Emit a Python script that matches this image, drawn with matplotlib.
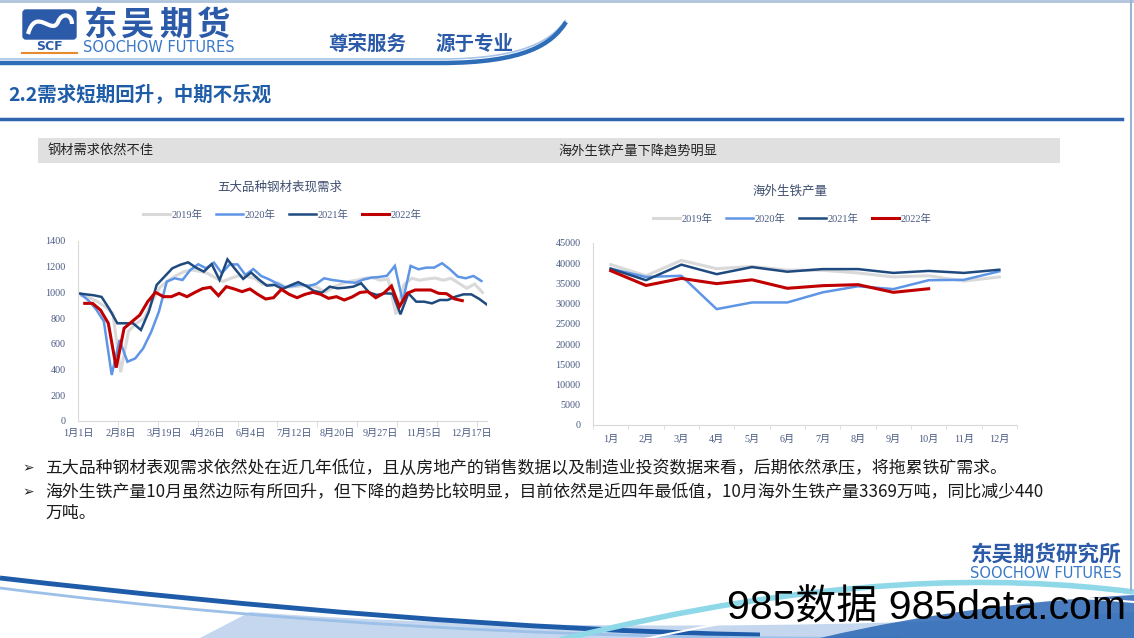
import matplotlib.pyplot as plt
import numpy as np
import pandas as pd
from matplotlib.path import Path
from matplotlib.patches import PathPatch, Rectangle, FancyBboxPatch

plt.rcParams['font.family'] = ['Noto Sans CJK SC', 'DejaVu Sans']
SERIF = ['Liberation Serif', 'Noto Sans CJK SC']

# ---- left chart: 五大品种钢材表观需求 (weekly) ----
years = ["2019年", "2020年", "2021年", "2022年"]
steel_start = ["2019-01-04", "2020-01-03", "2021-01-01", "2022-01-07"]
steel_2019 = [975, 960, 930, 890, 838, 380, 700, 760, 800, 930,
              1040, 1090, 1130, 1160, 1175, 1165, 1150, 1115, 1085, 1110,
              1130, 1125, 1110, 1065, 1058, 1075, 1040, 1045, 1050, 1055,
              1040, 1000, 1040, 1065, 1085, 1095, 1110, 1115, 1095, 1105,
              830, 1060, 1110, 1095, 1105, 1112, 1095, 1110, 1071, 1032,
              1065, 1000]
steel_2020 = [990, 940, 870, 775, 358, 630, 461, 487, 565, 690,
              850, 1084, 1110, 1097, 1175, 1219, 1188, 1232, 1149, 1218,
              1218, 1136, 1182, 1128, 1102, 1071, 1040, 1050, 1063, 1050,
              1066, 1110, 1097, 1089, 1080, 1075, 1100, 1115, 1120, 1130,
              1206, 930, 1206, 1180, 1193, 1193, 1227, 1180, 1123, 1110,
              1128, 1089]
steel_2021 = [993, 985, 978, 965, 870, 760, 760, 760, 708, 850,
              1058, 1123, 1188, 1215, 1234, 1193, 1162, 1220, 1097, 1257,
              1180, 1105, 1155, 1100, 1053, 1058, 1027, 1055, 1080, 1050,
              1012, 998, 1045, 1032, 1037, 1045, 1071, 1000, 980, 993,
              990, 830, 993, 928, 928, 915, 941, 941, 967, 985,
              985, 950, 905]
steel_2022 = [915, 915, 863, 760, 415, 721, 773, 824, 928, 1001,
              967, 967, 993, 967, 1000, 1030, 1040, 975, 1045, 1027,
              1006, 1027, 985, 949, 959, 1024, 985, 959, 985, 1001,
              985, 954, 967, 941, 965, 1000, 1006, 959, 993, 1050,
              889, 993, 1019, 1019, 1019, 993, 990, 950, 936]
steel_tick_dates = ["2021-01-01", "2021-02-08", "2021-03-19", "2021-04-26", "2021-06-04",
                    "2021-07-12", "2021-08-20", "2021-09-27", "2021-11-05", "2021-12-17"]
steel_tick_labels = ["1月1日", "2月8日", "3月19日", "4月26日", "6月4日",
                     "7月12日", "8月20日", "9月27日", "11月5日", "12月17日"]

# ---- right chart: 海外生铁产量 (monthly) ----
months = ["1月", "2月", "3月", "4月", "5月", "6月", "7月", "8月", "9月", "10月", "11月", "12月"]
pig_2019 = [39650, 36900, 40700, 38650, 39200, 38300, 38250, 37600, 36600, 36900, 35600, 36600]
pig_2020 = [38650, 36600, 36900, 28650, 30300, 30300, 32800, 34300, 33600, 35800, 35900, 38000]
pig_2021 = [38650, 35800, 39650, 37300, 39050, 37900, 38550, 38550, 37600, 38100, 37600, 38400]
pig_2022 = [38150, 34500, 36250, 34950, 35900, 33800, 34450, 34700, 32800, 33690]

colors = ['#D9D9D9', '#5E95E6', '#1F4A7F', '#C00000']
widths = [2.2, 1.8, 1.8, 2.2]
label_color = '#4A5B82'

W, H = 1134, 638
fig = plt.figure(figsize=(W / 100, H / 100), dpi=100)
bg = fig.add_axes([0, 0, 1, 1])
bg.set_xlim(0, W)
bg.set_ylim(H, 0)
bg.axis('off')


def px_rect(l, t, r, b):
    return [l / W, 1 - b / H, (r - l) / W, (b - t) / H]


def curve(pts, **kw):
    codes = [Path.MOVETO] + [Path.CURVE4] * (len(pts) - 1)
    bg.add_patch(PathPatch(Path(pts, codes), fill=False, **kw))


# ---- header ----
bg.plot([0, W], [1, 1], color='#AFC3DC', lw=2)
bg.plot([1131, 1131], [0, 590], color='#9DB3D2', lw=1.5)
bg.add_patch(FancyBboxPatch((23, 10), 53, 29, boxstyle='round,pad=0,rounding_size=3',
                            color='#2B5AA8'))
curve([(28, 34), (36, 6), (52, 36), (58, 22), (62, 12), (72, 14), (72, 24)],
      edgecolor='white', lw=3)
bg.text(49.5, 47, "SCF", fontsize=9, weight='bold', color='#2B5AA8', ha='center',
        va='center', family='DejaVu Sans')
bg.plot([22, 77], [53, 53], color='#E88A2E', lw=1.5)
for i, ch in enumerate("东吴期货"):
    bg.text(83 + i * 38, 25, ch, fontsize=24, weight='bold', color='#2B5AA8', va='center')
bg.text(83, 47, "SOOCHOW FUTURES", fontsize=10.5, color='#3A78C8', va='center',
        family='DejaVu Sans')
bg.text(328, 44, "尊荣服务", fontsize=14, weight='bold', color='#2B5AA8', va='center')
bg.text(513, 44, "源于专业", fontsize=14, weight='bold', color='#2B5AA8', va='center', ha='right')
bg.add_patch(PathPatch(Path([(0, 59), (440, 59), (520, 59), (550, 42), (566, 20)],
                            [Path.MOVETO, Path.LINETO, Path.CURVE4, Path.CURVE4, Path.CURVE4]),
                       fill=False, edgecolor='#A8C4E6', lw=1.2))
bg.add_patch(PathPatch(Path([(0, 63), (440, 63), (525, 63), (552, 44), (566, 22)],
                            [Path.MOVETO, Path.LINETO, Path.CURVE4, Path.CURVE4, Path.CURVE4]),
                       fill=False, edgecolor='#2E6DB8', lw=3.2))

bg.text(8, 94, "2.2需求短期回升，中期不乐观", fontsize=14, weight='bold', color='#1F5CA8',
        va='center')
bg.plot([0, 1122], [119, 119], color='#2E64B0', lw=2.5)

bg.add_patch(Rectangle((38, 138), 1022, 25, color='#E0E0E0', lw=0))
bg.text(48, 151, "钢材需求依然不佳", fontsize=9.5, color='#222222', va='center')
bg.text(558, 151, "海外生铁产量下降趋势明显", fontsize=9.5, color='#222222', va='center')

# ---- left chart ----
ax1 = fig.add_axes(px_rect(78, 241, 487, 421))
for name, start, vals, c, lw in zip(years, steel_start,
                                    [steel_2019, steel_2020, steel_2021, steel_2022],
                                    colors, widths):
    x = pd.date_range(start, periods=len(vals), freq='7D').dayofyear - 1
    ax1.plot(x, vals, color=c, lw=lw, label=name, solid_joinstyle='miter')
ax1.set_xlim(0, 364)
ax1.set_ylim(0, 1400)
ax1.set_yticks(range(0, 1401, 200))
ax1.set_xticks(pd.to_datetime(steel_tick_dates).dayofyear - 1)
ax1.set_xticklabels(steel_tick_labels)
ax1.set_xticks(np.arange(0, 360, 35.5), minor=True)
ax1.tick_params(axis='x', which='major', length=0, pad=6)
ax1.tick_params(axis='x', which='minor', length=4, color='#D9D9D9')
ax1.tick_params(axis='y', length=0, pad=9)
bg.text(280, 187, "五大品种钢材表现需求", fontsize=9, color='#404F70', ha='center', va='center')
ax1.legend(loc='center', bbox_to_anchor=(282 / W, 1 - 215 / H), bbox_transform=fig.transFigure,
           ncol=4, frameon=False, handlelength=2.6, handletextpad=0.15, columnspacing=1.3,
           prop={'family': SERIF, 'size': 7.5}, labelcolor=label_color)

# ---- right chart ----
ax2 = fig.add_axes(px_rect(593, 243, 1017, 425))
for name, vals, c, lw in zip(years, [pig_2019, pig_2020, pig_2021, pig_2022], colors, widths):
    ax2.plot(range(len(vals)), vals, color=c, lw=lw, label=name)
ax2.set_xlim(-0.5, 11.5)
ax2.set_ylim(0, 45000)
ax2.set_yticks(range(0, 45001, 5000))
ax2.set_xticks(range(len(months)))
ax2.set_xticklabels(months)
ax2.set_xticks(np.arange(-0.5, 12, 1), minor=True)
ax2.tick_params(axis='x', which='major', length=0, pad=7)
ax2.tick_params(axis='x', which='minor', length=3, color='#D9D9D9')
ax2.tick_params(axis='y', length=0, pad=9)
bg.text(790, 191, "海外生铁产量", fontsize=9, color='#404F70', ha='center', va='center')
ax2.legend(loc='center', bbox_to_anchor=(792 / W, 1 - 219 / H), bbox_transform=fig.transFigure,
           ncol=4, frameon=False, handlelength=2.6, handletextpad=0.15, columnspacing=1.3,
           prop={'family': SERIF, 'size': 7.5}, labelcolor=label_color)

for ax in (ax1, ax2):
    for s in ('top', 'right'):
        ax.spines[s].set_visible(False)
    for s in ('left', 'bottom'):
        ax.spines[s].set_color('#D9D9D9')
    for lbl in ax.get_xticklabels() + ax.get_yticklabels():
        lbl.set_family(SERIF)
        lbl.set_fontsize(7.3)
        lbl.set_color(label_color)

# ---- bullet text ----
bullets = [
    (468, "五大品种钢材表观需求依然处在近几年低位，且从房地产的销售数据以及制造业投资数据来看，后期依然承压，将拖累铁矿需求。"),
    (492, "海外生铁产量10月虽然边际有所回升，但下降的趋势比较明显，目前依然是近四年最低值，10月海外生铁产量3369万吨，同比减少440"),
]
for y, s in bullets:
    bg.text(22, y, "➢", fontsize=10, family='DejaVu Sans', color='#222222', va='center')
    bg.text(45, y, s, fontsize=12.2, color='#1A1A1A', va='center')
bg.text(45, 513, "万吨。", fontsize=12.2, color='#1A1A1A', va='center')

# ---- footer ----
bg.text(1121, 554, "东吴期货研究所", fontsize=15.5, weight='bold', color='#2B5AA8',
        ha='right', va='center')
bg.text(1122, 574, "SOOCHOW FUTURES", fontsize=10.5, color='#3A78C8', ha='right', va='center',
        family='DejaVu Sans')
band = Path([(250, 612), (460, 628), (800, 632), (1134, 612), (1134, 638), (200, 638), (250, 612)],
            [Path.MOVETO, Path.CURVE4, Path.CURVE4, Path.CURVE4, Path.LINETO, Path.LINETO,
             Path.CLOSEPOLY])
bg.add_patch(PathPatch(band, color='#7FA8DA', alpha=0.45, lw=0))
curve([(0, 578), (260, 608), (520, 630), (760, 635)], edgecolor='#1E5BA8', lw=3.5)
curve([(0, 588), (300, 626), (600, 640), (900, 638)], edgecolor='#9CC0E8', lw=2)
wedge = Path([(820, 638), (930, 612), (1040, 600), (1134, 595), (1134, 638), (820, 638)],
             [Path.MOVETO, Path.CURVE4, Path.CURVE4, Path.CURVE4, Path.LINETO, Path.CLOSEPOLY])
bg.add_patch(PathPatch(wedge, color='#2A66B5', alpha=0.85, lw=0))
curve([(560, 640), (820, 575), (1000, 575), (1134, 592)], edgecolor='#8ED8E8', lw=4)
curve([(640, 640), (860, 592), (1000, 590), (1134, 602)], edgecolor='white', lw=1.5)
bg.text(727, 608, "985数据 985data.com", fontsize=29.5, color='black', va='center',
        family=['Liberation Sans', 'Noto Sans CJK SC'])

fig.savefig('out.png', dpi=100)
